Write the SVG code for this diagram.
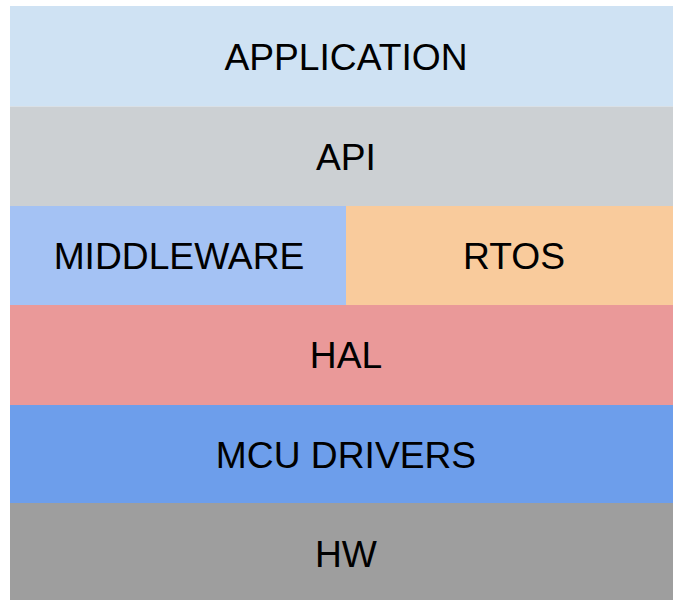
<svg xmlns="http://www.w3.org/2000/svg" width="673" height="600" viewBox="0 0 673 600">
  <style>
    .lbl { font-family: "Liberation Sans", Arial, sans-serif; font-size: 37.2px; fill: #000000; text-anchor: middle; }
  </style>
  <rect width="673" height="600" fill="#ffffff"/>
  <!-- layered software stack -->
  <g id="application">
    <rect x="10" y="6" width="663" height="100.5" fill="#cfe2f3"/>
    <text class="lbl" x="346" y="69.5">APPLICATION</text>
  </g>
  <g id="api">
    <rect x="10" y="106.5" width="663" height="99.5" fill="#ccd0d3"/>
    <text class="lbl" x="346" y="169.5">API</text>
  </g>
  <g id="middleware">
    <rect x="10" y="206" width="336" height="99" fill="#a4c2f4"/>
    <text class="lbl" x="179" y="268.5">MIDDLEWARE</text>
  </g>
  <g id="rtos">
    <rect x="346" y="206" width="327" height="99" fill="#f9cb9c"/>
    <text class="lbl" x="514" y="268.5">RTOS</text>
  </g>
  <g id="hal">
    <rect x="10" y="305" width="663" height="100" fill="#ea9999"/>
    <text class="lbl" x="346" y="368">HAL</text>
  </g>
  <g id="mcu-drivers">
    <rect x="10" y="405" width="663" height="98" fill="#6d9eeb"/>
    <text class="lbl" x="346" y="468">MCU DRIVERS</text>
  </g>
  <g id="hw">
    <rect x="10" y="503" width="663" height="97" fill="#9e9e9e"/>
    <text class="lbl" x="346" y="567">HW</text>
  </g>
  <g id="connectors"/>
</svg>
